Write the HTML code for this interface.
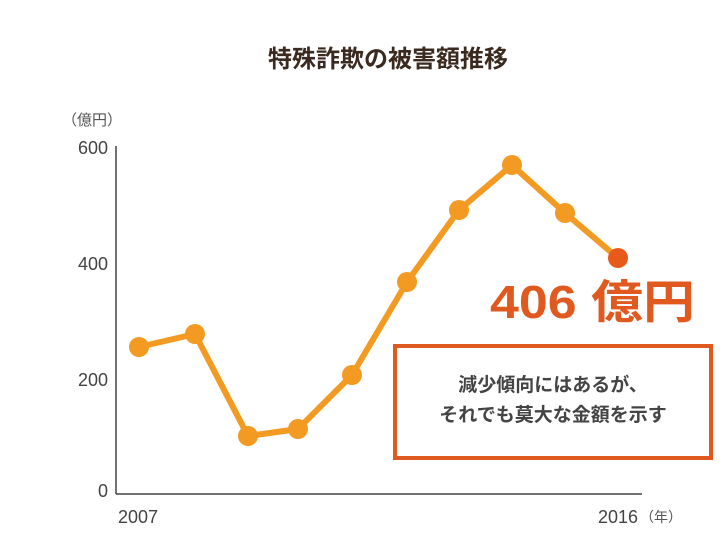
<!DOCTYPE html>
<html><head><meta charset="utf-8"><style>
body{margin:0;background:#fff;}
svg text{font-family:"Liberation Sans","Noto Sans CJK JP",sans-serif;}
</style></head><body>
<svg width="726" height="545" viewBox="0 0 726 545" xmlns="http://www.w3.org/2000/svg">
<rect width="726" height="545" fill="#fff"/>
<text x="388" y="67" text-anchor="middle" font-size="24" font-weight="bold" fill="#3a2a20">特殊詐欺の被害額推移</text>
<text x="62" y="125" font-size="15" fill="#555">（億円）</text>
<g font-size="18" fill="#444" text-anchor="end">
<text x="108" y="154">600</text>
<text x="108" y="270">400</text>
<text x="108" y="386">200</text>
<text x="108" y="497">0</text>
</g>
<line x1="116" y1="146" x2="116" y2="494" stroke="#444" stroke-width="1.5"/>
<line x1="116" y1="494" x2="642" y2="494" stroke="#444" stroke-width="1.5"/>
<text x="118" y="523" font-size="18" fill="#444">2007</text>
<text x="598" y="523" font-size="18" fill="#444">2016</text>
<text x="640" y="522" font-size="14" fill="#555">（年）</text>
<polyline points="139,347 195,334 248,436 298,429 352,375 407,282 459,210 512,165 565,213 618,258" fill="none" stroke="#f39a22" stroke-width="6" stroke-linejoin="round"/>
<g fill="#f39a22">
<circle cx="139" cy="347" r="10"/><circle cx="195" cy="334" r="10"/><circle cx="248" cy="436" r="10"/><circle cx="298" cy="429" r="10"/><circle cx="352" cy="375" r="10"/><circle cx="407" cy="282" r="10"/><circle cx="459" cy="210" r="10"/><circle cx="512" cy="165" r="10"/><circle cx="565" cy="213" r="10"/>
</g>
<circle cx="618" cy="258" r="10" fill="#e85a1c"/>
<text x="490" y="318" font-size="46" font-weight="bold" fill="#e05a20" textLength="205" lengthAdjust="spacingAndGlyphs">406 億円</text>
<rect x="395" y="346" width="316" height="112" fill="#fff" stroke="#e05a20" stroke-width="4"/>
<text x="553" y="391" text-anchor="middle" font-size="19" font-weight="bold" fill="#444">減少傾向にはあるが、</text>
<text x="553" y="421" text-anchor="middle" font-size="19" font-weight="bold" fill="#444">それでも莫大な金額を示す</text>
</svg>
</body></html>
